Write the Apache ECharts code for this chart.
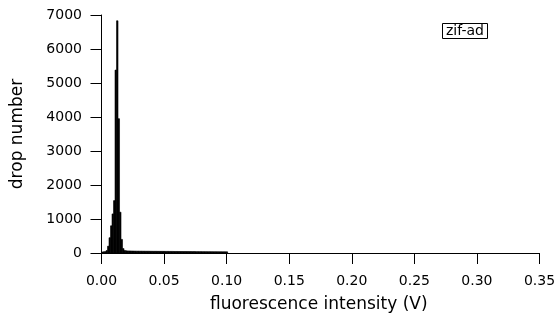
<!DOCTYPE html>
<html>
<head>
<meta charset="utf-8">
<script src="https://cdn.jsdelivr.net/npm/echarts@6/dist/echarts.min.js"></script>
<style>html,body{margin:0;padding:0;background:#fff;}#c{width:559px;height:322px;}</style>
</head>
<body>
<div id="c"></div>
<script>
// histogram bin width (V) and counts per bin, bins starting at 0
const binWidth = 0.0012;
const peakCounts = [30, 35, 40, 70, 200, 450, 800, 1150, 1540, 5380, 6830, 3950, 1200, 400, 130];
const tailCounts = [
  70, 65, 62, 60, 60, 58, 57, 56, 55, 55,
  54, 54, 53, 53, 52, 52, 52, 51, 51, 50,
  50, 50, 49, 49, 48, 48, 48, 47, 47, 47,
  46, 46, 46, 45, 45, 45, 44, 44, 44, 43,
  43, 43, 42, 42, 42, 41, 41, 41, 40, 40,
  40, 40, 39, 39, 39, 38, 38, 38, 38, 37,
  37, 37, 36, 36, 36, 35, 35, 35, 34
];
const xTicks = [0, 0.05, 0.10, 0.15, 0.20, 0.25, 0.30, 0.35];
const legendLabel = 'zif-ad';
const xTitle = 'fluorescence intensity (V)';
const yTitle = 'drop number';

const counts = peakCounts.concat(tailCounts);
const data = counts.map((c, i) => [i * binWidth, c]);

const font = 'DejaVu Sans';
const chart = echarts.init(document.getElementById('c'), null, {renderer: 'canvas'});
chart.setOption({
  animation: false,
  backgroundColor: '#fff',
  title: {
    text: legendLabel,
    left: 442, top: 23,
    padding: [1, 4, 1, 4],
    borderColor: '#000', borderWidth: 1,
    textStyle: {fontFamily: font, fontSize: 14, fontWeight: 'normal', color: '#000'}
  },
  grid: {left: 98, right: 19.5, top: 15, bottom: 69, containLabel: false},
  xAxis: {
    type: 'value', min: -0.0028, max: 0.35,
    name: xTitle, nameLocation: 'middle', nameGap: 43,
    nameTextStyle: {fontFamily: font, fontSize: 17, color: '#000'},
    axisLine: {show: true, onZero: false, lineStyle: {color: '#000', width: 1}},
    axisTick: {show: true, customValues: xTicks, length: 11, lineStyle: {color: '#000'}},
    axisLabel: {customValues: xTicks, formatter: v => v.toFixed(2), margin: 21,
      fontFamily: font, fontSize: 14, color: '#000'},
    splitLine: {show: false}
  },
  yAxis: {
    type: 'value', min: 0, max: 7000, interval: 1000,
    name: yTitle, nameLocation: 'middle', nameGap: 72,
    nameTextStyle: {fontFamily: font, fontSize: 17, color: '#000'},
    axisLine: {show: true, lineStyle: {color: '#000', width: 1}},
    axisTick: {show: true, length: 11, lineStyle: {color: '#000'}},
    axisLabel: {margin: 16, formatter: v => String(v), fontFamily: font, fontSize: 14, color: '#000'},
    splitLine: {show: false}
  },
  series: [{
    type: 'custom',
    data: data,
    renderItem: function (params, api) {
      const x0 = api.value(0), y = api.value(1);
      const p0 = api.coord([x0, y]);
      const p1 = api.coord([x0 + binWidth, 0]);
      return {type: 'rect', shape: {x: p0[0], y: p0[1], width: p1[0] - p0[0], height: p1[1] - p0[1]},
        style: {fill: '#000', stroke: '#000', lineWidth: 0.6}};
    }
  }]
});
</script>
</body>
</html>
